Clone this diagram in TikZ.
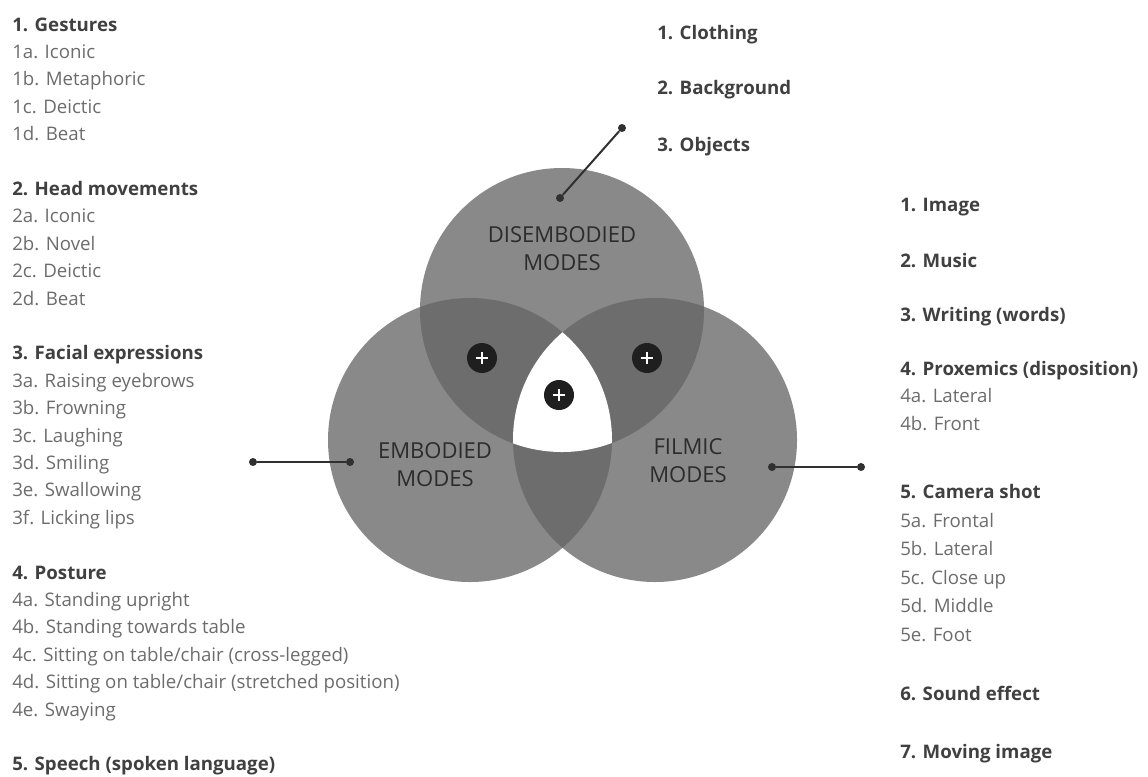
\documentclass[tikz,border=0pt]{standalone}
\usepackage{fontspec}
\setmainfont{Open Sans}

\definecolor{modegray}{HTML}{898989}
\definecolor{pairgray}{HTML}{6D6D6D}
\definecolor{headgray}{HTML}{404040}
\definecolor{itemgray}{HTML}{6C6C6C}
\definecolor{labelgray}{HTML}{2C2C2C}
\definecolor{linegray}{HTML}{303030}

\newcommand{\listfont}{\fontsize{14}{16}\selectfont}
\newcommand{\modefont}{\fontsize{16.5}{21}\selectfont}
\newcommand{\rmode}{106.5pt}

\begin{document}
\begin{tikzpicture}[x=0.75pt, y=-0.75pt,
  head/.style={anchor=base west, inner sep=0, font=\listfont\bfseries, text=headgray},
  item/.style={anchor=base west, inner sep=0, font=\listfont, text=itemgray},
  mode/.style={align=center, font=\modefont, text=labelgray},
  dot/.style={circle, fill=linegray, inner sep=0, minimum size=6pt},
  link/.style={draw=linegray, line width=1.5pt},
  plus/.style={circle, fill=black!88, inner sep=0, minimum size=22.5pt,
    path picture={
      \draw[white, line width=1.8pt] ([xshift=-4.5pt]path picture bounding box.center) -- ([xshift=4.5pt]path picture bounding box.center);
      \draw[white, line width=1.8pt] ([yshift=-4.5pt]path picture bounding box.center) -- ([yshift=4.5pt]path picture bounding box.center);}},
]
\useasboundingbox (0,0) rectangle (1148,776);

% the three modes
\coordinate (cdis) at (562,310);
\coordinate (cemb) at (470,440);
\coordinate (cfil) at (655,440);
\fill[modegray] (cdis) circle (\rmode);
\fill[modegray] (cemb) circle (\rmode);
\fill[modegray] (cfil) circle (\rmode);
\begin{scope}
\clip (cdis) circle (\rmode);
\fill[pairgray] (cemb) circle (\rmode);
\fill[pairgray] (cfil) circle (\rmode);
\end{scope}
\begin{scope}
\clip (cemb) circle (\rmode);
\fill[pairgray] (cfil) circle (\rmode);
\end{scope}
\begin{scope}
\clip (cdis) circle (\rmode);
\clip (cemb) circle (\rmode);
\fill[white] (cfil) circle (\rmode);
\end{scope}

\node[mode] (dis) at (562,249) {DISEMBODIED\\MODES};
\node[mode] (emb) at (435,465) {EMBODIED\\MODES};
\node[mode] (fil) at (688,461) {FILMIC\\MODES};

\node[plus] (pl) at (482,358) {};
\node[plus] (pr) at (647,358) {};
\node[plus] (pc) at (559,395) {};

% connectors
\node[dot] (dtop1) at (560,198) {};
\node[dot] (dtop2) at (622,128) {};
\node[dot] (demb1) at (350,462) {};
\node[dot] (demb2) at (253,462) {};
\node[dot] (dfil1) at (772,467) {};
\node[dot] (dfil2) at (861,467) {};
\draw[link] (dtop1) -- (dtop2);
\draw[link] (demb1) -- (demb2);
\draw[link] (dfil1) -- (dfil2);

% embodied modes
\node[head] (ges) at (12,31) {1. Gestures};
\foreach \l/\t [count=\i] in {a/Iconic, b/Metaphoric, c/Deictic, d/Beat}
  \node[item] (ges\l) at (12,{31+27.4*\i}) {1\l. \t};
\node[head] (hea) at (12,{31+27.4*6}) {2. Head movements};
\foreach \l/\t [count=\i] in {a/Iconic, b/Novel, c/Deictic, d/Beat}
  \node[item] (hea\l) at (12,{31+27.4*(6+\i)}) {2\l. \t};
\node[head] (fac) at (12,{31+27.4*12}) {3. Facial expressions};
\foreach \l/\t [count=\i] in {a/Raising eyebrows, b/Frowning, c/Laughing, d/Smiling, e/Swallowing, f/Licking lips}
  \node[item] (fac\l) at (12,{31+27.4*(12+\i)}) {3\l. \t};
\node[head] (pos) at (12,{31+27.4*20}) {4. Posture};
\foreach \l/\t [count=\i] in {a/Standing upright, b/Standing towards table, c/{Sitting on table/chair (cross-legged)}, d/{Sitting on table/chair (stretched position)}, e/Swaying}
  \node[item] (pos\l) at (12,{31+27.4*(20+\i)}) {4\l. \t};
\node[head] (spe) at (12,{31+27.4*27}) {5. Speech (spoken language)};

% disembodied modes
\node[head] (clo) at (657,39) {1. Clothing};
\node[head] (bac) at (657,94) {2. Background};
\node[head] (obj) at (657,151) {3. Objects};

% filmic modes
\node[head] (ima) at (900,211) {1. Image};
\node[head] (mus) at (900,267) {2. Music};
\node[head] (wri) at (900,321) {3. Writing (words)};
\node[head] (pro) at (900,375) {4. Proxemics (disposition)};
\node[item] (proa) at (900,402) {4a. Lateral};
\node[item] (prob) at (900,430) {4b. Front};
\node[head] (cam) at (900,498) {5. Camera shot};
\foreach \l/\t [count=\i] in {a/Frontal, b/Lateral, c/Close up, d/Middle, e/Foot}
  \node[item] (cam\l) at (900,{499+28.4*\i}) {5\l. \t};
\node[head] (sou) at (900,700) {6. Sound effect};
\node[head] (mov) at (900,758) {7. Moving image};
\end{tikzpicture}
\end{document}
